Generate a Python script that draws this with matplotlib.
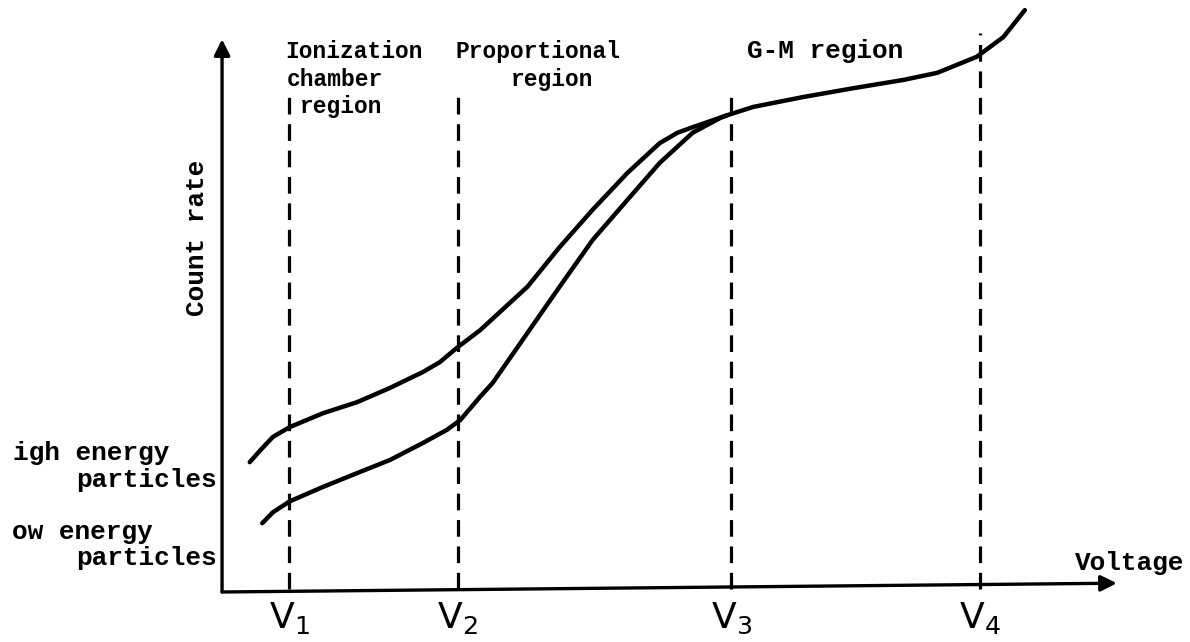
import matplotlib
matplotlib.use("Agg")
import matplotlib.pyplot as plt

plt.rcParams["lines.scale_dashes"] = False

# Voltage / count rate in arbitrary units (0-100 on both axes)
v_marks = [7.5, 26.4, 57.0, 84.9]
v_names = [r"$\mathrm{V}_1$", r"$\mathrm{V}_2$", r"$\mathrm{V}_3$", r"$\mathrm{V}_4$"]
v_tops = [90.4, 91.6, 90.4, 101.6]

high_v = [3.1, 4.3, 5.7, 7.6, 11.3, 15.1, 18.8, 22.5, 24.4, 26.3, 28.9,
          34.2, 37.8, 41.5, 45.4, 49.0, 51.0, 52.7, 56.6, 59.5, 65.1, 70.7, 76.3,
          80.1, 84.5, 87.5, 89.9]
high_rate = [23.6, 25.8, 28.2, 30.0, 32.5, 34.5, 37.1, 40.0, 41.8, 44.4, 47.6,
             55.5, 62.7, 69.5, 76.2, 81.6, 83.5, 84.5, 86.7, 88.2, 90.0, 91.6, 93.1,
             94.4, 97.3, 100.9, 105.8]

low_v = [4.5, 5.7, 7.6, 11.3, 15.1, 18.8, 22.5, 25.2, 26.7, 28.9, 30.3, 34.2,
         37.8, 41.5, 45.4, 49.0, 52.7, 55.8, 56.6]
low_rate = [12.5, 14.5, 16.5, 19.1, 21.6, 24.0, 27.1, 29.5, 31.3, 35.5, 38.0, 47.1,
            55.5, 64.0, 71.3, 78.0, 83.5, 86.2, 86.7]

mono = "Liberation Mono"

fig = plt.figure(figsize=(11.9, 6.42), dpi=100)
ax = fig.add_axes([0.1866, 0.0779, 0.7504, 0.8567])
ax.set_xlim(0, 100)
ax.set_ylim(0, 100)
ax.axis("off")

# axes drawn as arrows (the voltage axis rises slightly to the right)
ax.annotate("", xy=(100.2, 1.6), xytext=(0, 0),
            arrowprops=dict(arrowstyle="-|>", lw=2.4, color="black",
                            mutation_scale=24, shrinkA=0, shrinkB=0),
            annotation_clip=False)
ax.annotate("", xy=(0, 100.5), xytext=(0, 0),
            arrowprops=dict(arrowstyle="-|>", lw=2.4, color="black",
                            mutation_scale=24, shrinkA=0, shrinkB=0),
            annotation_clip=False)

# region boundaries
for x, top in zip(v_marks, v_tops):
    ax.plot([x, x], [0.5, top], color="black", lw=2.3, dashes=(12, 7),
            clip_on=False, solid_capstyle="butt")

ax.plot(high_v, high_rate, color="black", lw=3.2, clip_on=False,
        solid_joinstyle="round", solid_capstyle="round")
ax.plot(low_v, low_rate, color="black", lw=3.2, clip_on=False,
        solid_joinstyle="round", solid_capstyle="round")

for x, name in zip(v_marks, v_names):
    ax.text(x, -4.8, name, fontsize=26, ha="center", va="center",
            clip_on=False)

small = dict(fontfamily=mono, fontweight="bold", fontsize=16.5,
             ha="left", va="center", clip_on=False)
big = dict(small, fontsize=18.8)

ax.text(7.05, 98.2, "Ionization", **small)
ax.text(7.2, 93.1, "chamber", **small)
ax.text(8.7, 88.2, "region", **small)
ax.text(26.1, 98.2, "Proportional", **small)
ax.text(32.3, 93.1, "region", **small)
ax.text(58.8, 98.4, "G-M region", **big)

ax.text(-23.4, 25.3, "igh energy", **big)
ax.text(-16.3, 20.4, "particles", **big)
ax.text(-23.5, 10.9, "ow energy", **big)
ax.text(-16.3, 6.2, "particles", **big)

ax.text(-2.8, 64.4, "Count rate", rotation=90, **dict(big, ha="center"))
ax.text(95.5, 5.3, "Voltage", **big)

fig.savefig("out.png", dpi=100, facecolor="white")
